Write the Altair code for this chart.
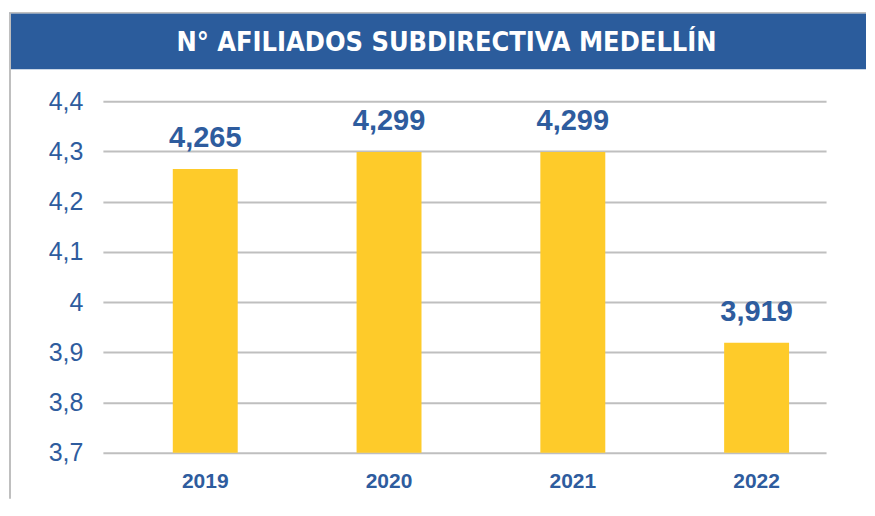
import altair as alt
import pandas as pd

# ---- data ----
TITLE = "N° AFILIADOS SUBDIRECTIVA MEDELLÍN"
years = ["2019", "2020", "2021", "2022"]
afiliados = [4265, 4299, 4299, 3919]
y_ticks = [3.7, 3.8, 3.9, 4.0, 4.1, 4.2, 4.3, 4.4]
Y_MIN, Y_MAX = 3.7, 4.4

# ---- style ----
BLUE_TEXT = "#2E5C9E"
BANNER = "#2B5C9C"
BAR = "#FECB2A"
GRID = "#BFBFBF"
FONT = "Liberation Sans, Arial, sans-serif"
TITLE_FONT = "DejaVu Sans Condensed, sans-serif"

W, H = 724, 352

df = pd.DataFrame({"year": years, "afiliados": afiliados})
one = pd.DataFrame({"t": [TITLE]})

# banner (decoration around the plot area)
banner = alt.Chart(one).mark_rect(color=BANNER).encode(
    x=alt.value(-94), x2=alt.value(764), y=alt.value(-88), y2=alt.value(-32)
)
top_line = alt.Chart(one).mark_rule(color=GRID, strokeWidth=1.5).encode(
    x=alt.value(-94), x2=alt.value(764), y=alt.value(-88.5)
)
left_line = alt.Chart(one).mark_rule(color=GRID, strokeWidth=2).encode(
    x=alt.value(-93), y=alt.value(-88), y2=alt.value(398)
)
title = alt.Chart(one).mark_text(
    font=TITLE_FONT, fontSize=27, fontWeight="bold", color="white",
    align="center", baseline="middle"
).encode(x=alt.value(344), y=alt.value(-58), text="t:N")

base = alt.Chart(df).transform_calculate(miles="datum.afiliados / 1000")

x = alt.X(
    "year:N", sort=years, title=None,
    scale=alt.Scale(paddingInner=0.6467, paddingOuter=0.2908, align=0.654),
    axis=alt.Axis(domain=False, ticks=False, grid=False, labelAngle=0,
                  labelFont=FONT, labelFontSize=21, labelFontWeight="bold",
                  labelColor=BLUE_TEXT, labelPadding=18),
)
y = alt.Y(
    "miles:Q", title=None,
    scale=alt.Scale(domain=[Y_MIN, Y_MAX], zero=False, nice=False),
    axis=alt.Axis(values=y_ticks, domain=False, ticks=False, grid=True,
                  gridColor=GRID, gridWidth=2, labelFont=FONT, labelFontSize=25,
                  labelColor=BLUE_TEXT, labelPadding=20,
                  labelExpr="replace(format(datum.value, '.2~f'), '.', ',')"),
)

bars = base.mark_bar(color=BAR).encode(x=x, y=y, y2=alt.datum(Y_MIN))
labels = base.mark_text(
    dy=-16, baseline="bottom", fontSize=29, fontWeight="bold",
    color=BLUE_TEXT, font=FONT
).encode(x=x, y=y, text=alt.Text("afiliados:Q", format=","))

chart = alt.layer(bars, labels, banner, top_line, left_line, title).properties(
    width=W, height=H,
    padding={"left": 0, "top": 3, "right": 0, "bottom": 0},
).configure_view(strokeWidth=0)

chart.save("out.html", embed_options={"renderer": "svg", "actions": False})
